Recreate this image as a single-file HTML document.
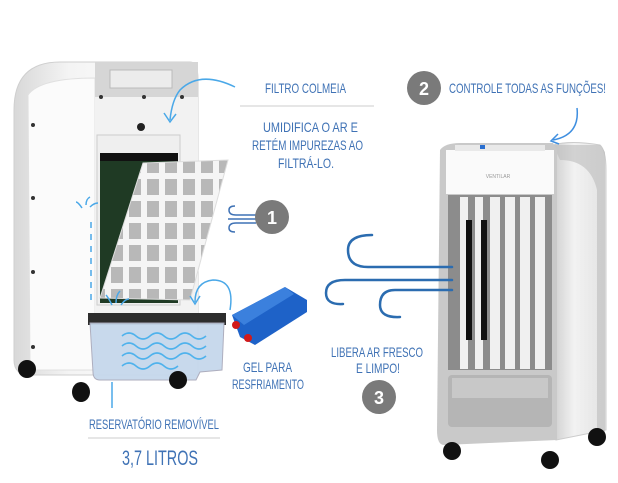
<!DOCTYPE html>
<html><head><meta charset="utf-8"><style>
html,body{margin:0;padding:0;background:#fff;width:618px;height:483px;overflow:hidden}
svg{display:block}
text{font-family:"Liberation Sans",sans-serif;fill:#3f72b5}
</style></head><body>
<svg width="618" height="483" viewBox="0 0 618 483" xmlns="http://www.w3.org/2000/svg">
<defs>
<linearGradient id="side" x1="0" x2="1"><stop offset="0" stop-color="#d8d8d8"/><stop offset="0.3" stop-color="#f4f4f4"/><stop offset="1" stop-color="#ffffff"/></linearGradient>
<linearGradient id="rside" x1="0" x2="1"><stop offset="0" stop-color="#cfcfcf"/><stop offset="0.4" stop-color="#f2f2f2"/><stop offset="1" stop-color="#e2e2e2"/></linearGradient>
<pattern id="grid" width="18" height="22" patternUnits="userSpaceOnUse"><rect width="18" height="22" fill="#f5f5f5"/><rect x="3" y="3" width="12" height="16" fill="#b8b8b8"/></pattern>
</defs>

<!-- LEFT APPLIANCE -->
<path d="M14 110 Q14 62 60 62 L190 62 Q198 62 198 80 L198 375 L30 375 Q14 375 14 360 Z" fill="url(#side)" stroke="#cfcfcf"/>
<path d="M28 95 Q40 78 95 78 L95 370 L30 370 Z" fill="#fbfbfb" stroke="#e0e0e0"/>
<rect x="95" y="62" width="103" height="35" fill="#d6d6d6"/>
<rect x="110" y="70" width="62" height="18" fill="#ececec" stroke="#bbb"/>
<rect x="95" y="97" width="103" height="220" fill="#f2f2f2"/>
<circle cx="101" cy="97" r="2" fill="#333"/><circle cx="144" cy="97" r="2" fill="#333"/><circle cx="182" cy="97" r="2" fill="#333"/>
<circle cx="33" cy="125" r="2" fill="#333"/><circle cx="33" cy="198" r="2" fill="#333"/><circle cx="33" cy="272" r="2" fill="#333"/><circle cx="33" cy="347" r="2" fill="#333"/>
<circle cx="141" cy="127" r="4" fill="#222"/>
<rect x="97" y="135" width="83" height="170" fill="#efefef" stroke="#ccc"/>
<rect x="100" y="153" width="78" height="150" fill="#1f3a24"/>
<rect x="100" y="153" width="78" height="8" fill="#111"/>
<polygon points="143,163 228,160 190,300 100,298" fill="url(#grid)" stroke="#ddd"/>
<!-- reservoir -->
<rect x="88" y="313" width="138" height="12" fill="#2d2d2d"/>
<path d="M90 323 L224 323 L222 370 L200 372 L196 380 L100 380 Q93 380 93 372 Z" fill="#c6d8ec" stroke="#aab" opacity="0.95"/>
<g fill="none" stroke="#4fb2ec" stroke-width="1.6">
<path d="M122 336 q7 -6 14 0 t14 0 t14 0 t14 0 t14 0 t14 0"/>
<path d="M122 346 q7 -6 14 0 t14 0 t14 0 t14 0 t14 0 t14 0"/>
<path d="M122 356 q7 -6 14 0 t14 0 t14 0 t14 0 t14 0 t14 0"/>
<path d="M122 366 q7 -6 14 0 t14 0 t14 0 t14 0"/>
</g>
<g fill="#111"><ellipse cx="27" cy="369" rx="9" ry="9"/><ellipse cx="81" cy="392" rx="9" ry="10"/><ellipse cx="178" cy="380" rx="9" ry="9"/></g>
<!-- blue arrows left -->
<g stroke="#4aa8e8" stroke-width="1.5" fill="none">
<path d="M91 300 L91 218" stroke-dasharray="6 6"/>
<path d="M112 305 q-4 -8 -6 -10 M116 303 q0 -8 4 -12 M121 305 q4 -6 8 -6"/>
<path d="M82 208 q-4 -6 -6 -6 M86 205 q0 -6 4 -8 M90 207 q4 -4 8 -4"/>
<path d="M230 310 Q235 280 213 280 Q195 282 195 302"/>
<path d="M190 296 L195 304 L200 296"/>
<path d="M235 87 Q200 70 180 90 Q172 100 170 120"/>
<path d="M164 113 L170 122 L176 114"/>
<path d="M112 382 L112 408"/>
</g>
<!-- wind 1 -->
<g stroke="#3f72b5" stroke-width="1.5" fill="none">
<path d="M256 215 L236 215 Q229 215 229 210 Q229 206 235 206"/>
<path d="M256 219 L228 219"/>
<path d="M256 223 L236 223 Q229 223 229 228 Q229 232 235 232"/>
</g>
<circle cx="272" cy="217" r="17" fill="#7a7a7a"/>
<text x="272" y="224" font-size="18" font-weight="bold" text-anchor="middle" style="fill:#fff">1</text>
<!-- gel -->
<polygon points="232,315 285,287 307,300 307,312 255,345 240,337" fill="#1e62c8"/>
<polygon points="232,315 285,287 294,294 244,325" fill="#3b80dd"/>
<circle cx="236" cy="325" r="4" fill="#d21a1a"/><circle cx="248" cy="338" r="4" fill="#d21a1a"/>

<!-- RIGHT APPLIANCE -->
<path d="M553 145 Q570 140 600 145 Q606 150 606 170 L606 430 L556 440 Z" fill="url(#rside)" stroke="#ccc"/>
<path d="M553 145 L600 145 L605 152 L605 440 L597 440 L597 190 Q590 160 560 160 Z" fill="#bdbdbd" opacity="0.6"/>
<path d="M440 150 Q445 143 460 143 L553 143 L557 150 L557 440 L444 445 Q437 445 437 430 Z" fill="#c9c9c9"/>
<rect x="446" y="150" width="108" height="44" fill="#fafafa"/>
<rect x="455" y="145" width="90" height="6" fill="#e9e9e9"/>
<rect x="480" y="145" width="5" height="4" fill="#2a6fd0"/>
<text x="498" y="178" font-size="5" text-anchor="middle" style="fill:#999">VENTILAR</text>
<rect x="448" y="195" width="104" height="175" fill="#8c8c8c"/>
<g fill="#f0f0f0">
<rect x="460" y="197" width="8" height="172"/><rect x="475" y="197" width="8" height="172"/><rect x="490" y="197" width="10" height="172"/>
<rect x="505" y="197" width="10" height="172"/><rect x="520" y="197" width="10" height="172"/><rect x="535" y="197" width="10" height="172"/>
</g>
<g fill="#111"><rect x="466" y="220" width="6" height="120"/><rect x="481" y="220" width="6" height="120"/></g>
<rect x="448" y="375" width="104" height="52" rx="4" fill="#b5b5b5"/>
<rect x="452" y="378" width="96" height="20" fill="#c8c8c8"/>
<g fill="#111"><ellipse cx="452" cy="451" rx="9" ry="9"/><ellipse cx="550" cy="460" rx="9" ry="9"/><ellipse cx="597" cy="437" rx="9" ry="9"/></g>
<!-- wind big -->
<g stroke="#2b6cb0" stroke-width="2.5" fill="none" stroke-linecap="round">
<path d="M452 267 L368 267 Q348 267 348 250 Q348 235 372 235"/>
<path d="M452 280 L345 280 Q326 280 326 293 Q326 305 343 304"/>
<path d="M452 290 L395 290 Q380 290 380 305 Q380 318 400 317"/>
</g>
<!-- arrow 2 -->
<path d="M577 108 Q580 135 553 140" stroke="#3f8fe0" stroke-width="1.5" fill="none"/>
<path d="M558 134 L551 141 L559 144" stroke="#3f8fe0" stroke-width="1.5" fill="none"/>
<circle cx="424" cy="88" r="17" fill="#7a7a7a"/>
<text x="424" y="95" font-size="18" font-weight="bold" text-anchor="middle" style="fill:#fff">2</text>
<circle cx="379" cy="397" r="17" fill="#7a7a7a"/>
<text x="379" y="404" font-size="18" font-weight="bold" text-anchor="middle" style="fill:#fff">3</text>

<!-- TEXTS -->
<text x="265" y="93" font-size="14" textLength="81" lengthAdjust="spacingAndGlyphs">FILTRO COLMEIA</text>
<line x1="240" y1="106" x2="374" y2="106" stroke="#ccc"/>
<text x="263" y="132" font-size="14" textLength="95" lengthAdjust="spacingAndGlyphs">UMIDIFICA O AR E</text>
<text x="252" y="150" font-size="14" textLength="111" lengthAdjust="spacingAndGlyphs">RETÉM IMPUREZAS AO</text>
<text x="278" y="168" font-size="14" textLength="56" lengthAdjust="spacingAndGlyphs">FILTRÁ-LO.</text>
<text x="449" y="93" font-size="14" textLength="157" lengthAdjust="spacingAndGlyphs">CONTROLE TODAS AS FUNÇÕES!</text>
<text x="243" y="372" font-size="14" textLength="49" lengthAdjust="spacingAndGlyphs">GEL PARA</text>
<text x="232" y="389" font-size="14" textLength="72" lengthAdjust="spacingAndGlyphs">RESFRIAMENTO</text>
<text x="331" y="357" font-size="14" textLength="92" lengthAdjust="spacingAndGlyphs">LIBERA AR FRESCO</text>
<text x="356" y="373" font-size="14" textLength="44" lengthAdjust="spacingAndGlyphs">E LIMPO!</text>
<text x="89" y="429" font-size="14" textLength="130" lengthAdjust="spacingAndGlyphs">RESERVATÓRIO REMOVÍVEL</text>
<line x1="88" y1="438" x2="220" y2="438" stroke="#ccc"/>
<text x="122" y="465" font-size="21" textLength="76" lengthAdjust="spacingAndGlyphs">3,7 LITROS</text>
</svg>
</body></html>
